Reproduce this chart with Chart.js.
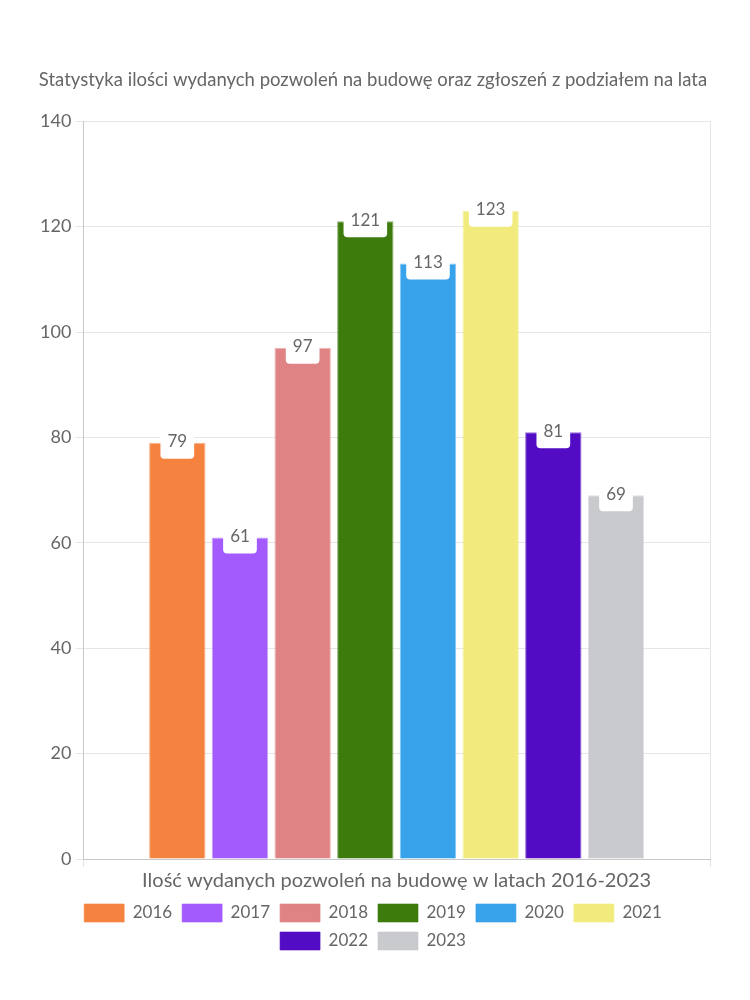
<!DOCTYPE html>
<html>
<head>
<meta charset="utf-8">
<script src="https://cdn.jsdelivr.net/npm/chart.js@4"></script>
<style>
html,body{margin:0;padding:0;background:#fff;}
#wrap{width:750px;height:1000px;position:relative;}
</style>
</head>
<body>
<div id="wrap"><canvas id="c" width="750" height="1000"></canvas></div>
<script>
const categories = ["Ilość wydanych pozwoleń na budowę w latach 2016-2023"];
const seriesNames = ["2016","2017","2018","2019","2020","2021","2022","2023"];
const seriesValues = [79, 61, 97, 121, 113, 123, 81, 69];
const seriesColors = ["#F5833F","#A35BFD","#E08384","#3E7B0D","#38A2EA","#F0EB7C","#520CC4","#C9CACE"];
const titleText = "Statystyka ilości wydanych pozwoleń na budowę oraz zgłoszeń z podziałem na lata";

const FONT = "Lato";
const GREY = "#666666";

const labelPlugin = {
  id: 'boxLabels',
  afterDatasetsDraw(chart) {
    const ctx = chart.ctx;
    ctx.save();
    ctx.font = "17px " + FONT;
    ctx.textAlign = "center";
    ctx.textBaseline = "middle";
    chart.data.datasets.forEach((ds, i) => {
      const meta = chart.getDatasetMeta(i);
      if (meta.hidden) return;
      meta.data.forEach((el, j) => {
        const v = ds.data[j];
        const txt = String(v);
        const w = ctx.measureText(txt).width + 14;
        const x = el.x, y = el.y;
        const top = y - 10, bot = y + 16, r = 4;
        ctx.fillStyle = "#ffffff";
        ctx.beginPath();
        ctx.moveTo(x - w/2, top);
        ctx.lineTo(x + w/2, top);
        ctx.lineTo(x + w/2, bot - r);
        ctx.quadraticCurveTo(x + w/2, bot, x + w/2 - r, bot);
        ctx.lineTo(x - w/2 + r, bot);
        ctx.quadraticCurveTo(x - w/2, bot, x - w/2, bot - r);
        ctx.closePath();
        ctx.fill();
        ctx.fillStyle = GREY;
        ctx.fillText(txt, x, y - 1);
      });
    });
    ctx.restore();
  }
};

const datasets = seriesNames.map((n, i) => ({
  label: n,
  data: [seriesValues[i]],
  backgroundColor: seriesColors[i],
  borderColor: seriesColors[i] + "99",
  borderWidth: 1,
  categoryPercentage: 0.8,
  barPercentage: 0.9
}));

new Chart(document.getElementById('c'), {
  type: 'bar',
  data: { labels: categories, datasets },
  plugins: [labelPlugin],
  options: {
    responsive: false,
    animation: false,
    devicePixelRatio: 1,
    layout: { padding: { top: 69, left: 36, right: 40, bottom: 40 } },
    plugins: {
      title: {
        display: true,
        text: titleText,
        color: GREY,
        font: { family: FONT, size: 18.5, weight: 'normal' },
        padding: { top: 0, bottom: 30 }
      },
      legend: {
        position: 'bottom',
        labels: {
          color: GREY,
          font: { family: FONT, size: 17 },
          boxWidth: 40,
          boxHeight: 18,
          padding: 10
        }
      },
      tooltip: { enabled: false }
    },
    scales: {
      x: {
        ticks: { display: false },
        grid: { color: "#e6e6e6", offset: true, tickLength: 8, drawTicks: true },
        border: { color: "#c8c8c8" },
        title: {
          display: true,
          text: categories[0],
          color: GREY,
          font: { family: FONT, size: 20 },
          padding: { top: 2, bottom: 1 }
        }
      },
      y: {
        min: 0,
        max: 140,
        ticks: { stepSize: 20, color: GREY, font: { family: FONT, size: 18 }, padding: 4 },
        grid: { color: "#e6e6e6", tickLength: 8 },
        border: { color: "#c8c8c8" }
      }
    }
  }
});
</script>
</body>
</html>
